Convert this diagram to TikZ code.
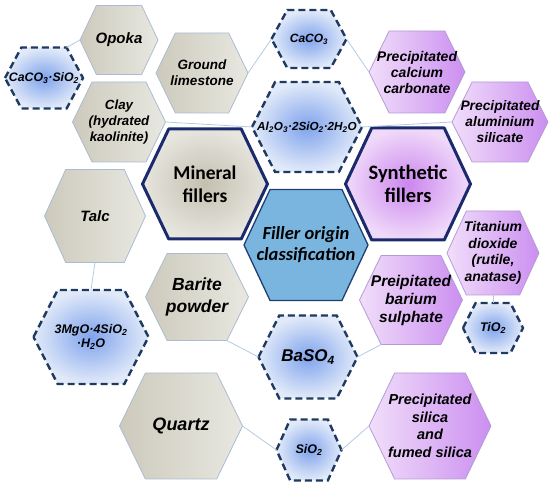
\documentclass[tikz,border=0pt]{standalone}
\usepackage{fontspec}
\setmainfont{Liberation Sans}
\newfontfamily\calfont{Carlito}
\definecolor{gA}{HTML}{CDCABC}
\definecolor{gB}{HTML}{E8E8E1}
\definecolor{gBd}{HTML}{A9BCD3}
\definecolor{pA}{HTML}{F1DEFA}
\definecolor{pB}{HTML}{CB8FF0}
\definecolor{pBd}{HTML}{B59BD6}
\definecolor{bIn}{HTML}{7FA3EC}
\definecolor{bOut}{HTML}{E2EAF9}
\definecolor{navy}{HTML}{1E3A60}
\definecolor{navyB}{HTML}{1A2A6C}
\definecolor{mIn}{HTML}{C4C0B0}
\definecolor{mOut}{HTML}{E6E5DE}
\definecolor{sIn}{HTML}{CC86EE}
\definecolor{sOut}{HTML}{F0DAFA}
\definecolor{cFill}{HTML}{79B5DF}
\definecolor{cBd}{HTML}{1F3F70}
\definecolor{lnk}{HTML}{B3CBE2}
\tikzset{
  gry/.style={left color=gA, right color=gB, draw=gBd, line width=0.8pt, line join=round},
  pur/.style={left color=pA, right color=pB, draw=pBd, line width=0.8pt, line join=round},
  dsh/.style={inner color=bIn, outer color=bOut, draw=navy, line width=2.4pt, dash pattern=on 7pt off 4pt},
  mainmin/.style={inner color=mIn, outer color=mOut, draw=navyB, line width=3pt, line join=round},
  mainsyn/.style={inner color=sIn, outer color=sOut, draw=navyB, line width=3pt, line join=round},
  orig/.style={fill=cFill, draw=cBd, line width=1.3pt, line join=round},
  txt/.style={align=center, inner sep=0pt, text=black},
  link/.style={draw=lnk, line width=0.8pt}
}
\newcommand\bi[2]{\bfseries\itshape\fontsize{#1}{#2}\selectfont}
\newcommand\hexa[8]{%
  \path[#6] ({#2-#4/2},{#3}) -- ({#2-#4/2+0.21*#4},{#3-#5/2}) -- ({#2+#4/2-0.21*#4},{#3-#5/2})
    -- ({#2+#4/2},{#3}) -- ({#2+#4/2-0.21*#4},{#3+#5/2}) -- ({#2-#4/2+0.21*#4},{#3+#5/2}) -- cycle;
  \coordinate (#1-W) at ({#2-#4/2},{#3});
  \coordinate (#1-E) at ({#2+#4/2},{#3});
  \coordinate (#1-N) at ({#2},{#3-#5/2});
  \coordinate (#1-S) at ({#2},{#3+#5/2});
  \coordinate (#1-NE) at ({#2+#4/2-0.21*#4},{#3-#5/2});
  \coordinate (#1-NW) at ({#2-#4/2+0.21*#4},{#3-#5/2});
  \coordinate (#1-SE) at ({#2+#4/2-0.21*#4},{#3+#5/2});
  \coordinate (#1-SW) at ({#2-#4/2+0.21*#4},{#3+#5/2});
  \node[txt, font=#7] (#1) at (#2,#3) {#8};
}
\newcommand\sub[1]{\textsubscript{#1}}
\begin{document}
\begin{tikzpicture}[x=1pt,y=-1pt]
\useasboundingbox (0,0) rectangle (550,486);
\hexa{opoka}{119}{40}{78}{69}{gry}{\bi{15}{18}}{Opoka}
\hexa{csi}{44}{78}{78}{61}{dsh}{\bi{12.3}{14}}{CaCO\sub{3}·SiO\sub{2}}
\hexa{gl}{202}{73}{92}{80}{gry}{\bi{13.5}{16}}{Ground\\limestone}
\hexa{clay}{119}{122}{93}{80}{gry}{\bi{13.3}{16}}{Clay\\(hydrated\\kaolinite)}
\hexa{caco}{309}{39}{75}{58}{dsh}{\bi{12}{14}}{CaCO\sub{3}}
\hexa{pcc}{417}{72}{96}{82}{pur}{\bi{14}{16}}{Precipitated\\calcium\\carbonate}
\hexa{pas}{500}{122}{96}{80}{pur}{\bi{13.8}{16}}{Precipitated\\aluminium\\silicate}
\hexa{aso}{307}{127}{110}{90}{dsh}{\bi{11.7}{14}}{Al\sub{2}O\sub{3}·2SiO\sub{2}·2H\sub{2}O}
\hexa{mineral}{205}{184}{125}{110}{mainmin}{\calfont\bfseries\fontsize{19.5}{23}\selectfont}{Mineral\\fillers}
\hexa{synth}{408}{184}{125}{112}{mainsyn}{\calfont\bfseries\fontsize{20.5}{23}\selectfont}{Synthetic\\fillers}
\hexa{origin}{306}{245}{124}{111}{orig}{\calfont\bfseries\itshape\fontsize{18.5}{21}\selectfont}{Filler origin\\classification}
\hexa{talc}{95}{216}{101}{93}{gry}{\bi{15}{17}}{Talc}
\hexa{barite}{197}{297}{103}{87}{gry}{\bi{17.5}{22}}{Barite\\powder}
\hexa{tid}{493}{253}{92}{84}{pur}{\bi{14}{16.5}}{Titanium\\dioxide\\(rutile,\\anatase)}
\hexa{pbs}{411}{300}{103}{89}{pur}{\bi{15.5}{18}}{Preipitated\\barium\\sulphate}
\hexa{tio}{493}{328}{60}{50}{dsh}{\bi{12.5}{14}}{TiO\sub{2}}
\hexa{mgo}{91}{337}{115}{94}{dsh}{\bi{12.5}{13.5}}{3MgO·4SiO\sub{2}\\·H\sub{2}O}
\hexa{quartz}{181}{426}{123}{106}{gry}{\bi{18}{21}}{Quartz}
\hexa{baso}{308}{357}{99}{83}{dsh}{\bi{17}{19}}{BaSO\sub{4}}
\hexa{sio}{309}{450}{65}{61}{dsh}{\bi{12.5}{14}}{SiO\sub{2}}
\hexa{psil}{430}{426}{122}{106}{pur}{\bi{14.5}{17.5}}{Precipitated\\silica\\and\\fumed silica}
% connectors
\draw[link] (opoka-W) -- (csi-NE);
\draw[link] (gl-E) -- (caco-W);
\draw[link] (caco-E) -- (pcc-W);
\draw[link] (clay-E) -- (aso-W);
\draw[link] (aso-E) -- (pas-W);
\draw[link] (talc-S) -- (mgo-N);
\draw[link] (barite-SE) -- (baso-W);
\draw[link] (quartz-E) -- (sio-W);
\draw[link] (baso-E) -- (pbs-SW);
\draw[link] (sio-E) -- (psil-W);
\draw[link] (tid-S) -- (tio-N);
\end{tikzpicture}
\end{document}
